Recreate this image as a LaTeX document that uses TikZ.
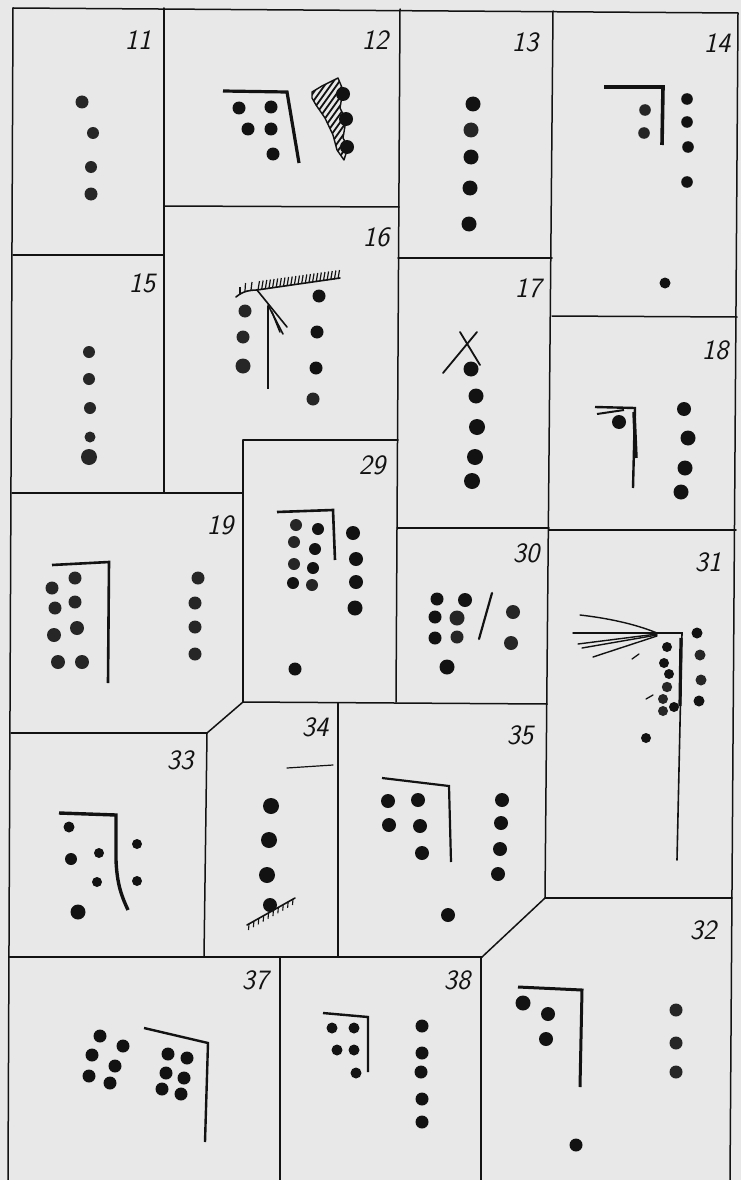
\documentclass[tikz,border=0pt]{standalone}
\usepackage{fontspec}
\usetikzlibrary{calc}
\definecolor{paper}{RGB}{232,232,232}
\definecolor{ink}{RGB}{18,18,18}
\definecolor{inkg}{RGB}{38,38,38}
\tikzset{
  frame/.style={line width=1.5pt, draw=ink, line cap=round, line join=round},
  bracket/.style={line width=3pt, draw=ink, line join=miter},
  thinink/.style={line width=1.6pt, draw=ink, line cap=round},
  lbl/.style={font=\fontsize{28}{28}\selectfont\sffamily\slshape, text=ink, inner sep=0pt},
  sdot/.style={fill=ink},
  gdot/.style={fill=inkg},
}
\newcommand\dd[3]{\fill[sdot] (#1,#2) circle (#3pt);}
\newcommand\gd[3]{\fill[gdot] (#1,#2) circle (#3pt);}
\begin{document}
\begin{tikzpicture}[x=1pt,y=-1pt]
\fill[paper] (0,0) rectangle (741,1180);
\useasboundingbox (0,0) rectangle (741,1180);

% ---------- frame ----------
\draw[frame] (13,8) -- (738,13) -- (730,1180);
\draw[frame] (13,8) -- (8,1180);
\draw[frame] (164,8) -- (164,493);
\draw[frame] (13,255) -- (164,255);
\draw[frame] (164,206) -- (399,207);
\draw[frame] (400,9) -- (396,702);
\draw[frame] (398,258) -- (552,258);
\draw[frame] (553,11) -- (545,898);
\draw[frame] (552,316) -- (737,317);
\draw[frame] (243,440) -- (398,440);
\draw[frame] (243,440) -- (243,702);
\draw[frame] (12,493) -- (243,493);
\draw[frame] (397,528) -- (549,528);
\draw[frame] (549,530) -- (736,530);
\draw[frame] (243,702) -- (547,704);
\draw[frame] (243,702) -- (207,733);
\draw[frame] (11,733) -- (207,733);
\draw[frame] (207,733) -- (204,957);
\draw[frame] (338,703) -- (338,957);
\draw[frame] (9,957) -- (482,957);
\draw[frame] (482,957) -- (545,898);
\draw[frame] (545,898) -- (732,898);
\draw[frame] (280,957) -- (280,1180);
\draw[frame] (481,957) -- (481,1180);

% ---------- labels ----------
\node[lbl] (l11) at (138,40) {11};
\node[lbl] (l12) at (375,40) {12};
\node[lbl] (l13) at (525,42) {13};
\node[lbl] (l14) at (717,43) {14};
\node[lbl] (l15) at (142,283) {15};
\node[lbl] (l16) at (376,237) {16};
\node[lbl] (l17) at (528,288) {17};
\node[lbl] (l18) at (715,350) {18};
\node[lbl] (l29) at (372,465) {29};
\node[lbl] (l19) at (220,525) {19};
\node[lbl] (l30) at (526,553) {30};
\node[lbl] (l31) at (708,562) {31};
\node[lbl] (l33) at (180,760) {33};
\node[lbl] (l34) at (315,727) {34};
\node[lbl] (l35) at (520,735) {35};
\node[lbl] (l32) at (703,930) {32};
\node[lbl] (l37) at (255,980) {37};
\node[lbl] (l38) at (457,980) {38};

% ---------- panel 11 ----------
\gd{82}{102}{6.5} \gd{93}{133}{6} \gd{91}{167}{6} \gd{91}{194}{6.5}

% ---------- panel 12 ----------
\draw[bracket, line width=3.2pt] (223,91) -- (287,92) -- (299,163);
\dd{239}{108}{6.5} \dd{271}{107}{6.5} \dd{248}{129}{6.5} \dd{271}{129}{6.5} \dd{273}{154}{6.5}
\begin{scope}
  \clip (312,92) -- (322,86) -- (338,78) -- (343,90) -- (340,108) -- (346,120) -- (343,138) -- (348,147) -- (344,160) -- (337,150) -- (333,135) -- (325,118) -- (316,105) -- (312,98) -- cycle;
  \foreach \k in {0,...,16} { \draw[line width=1.8pt, ink] (245+\k*6,180) -- ++(80,-112); }
\end{scope}
\draw[line width=1.4pt, ink, line join=round] (312,92) -- (322,86) -- (338,78) -- (343,90) -- (340,108) -- (346,120) -- (343,138) -- (348,147) -- (344,160) -- (337,150) -- (333,135) -- (325,118) -- (316,105) -- (312,98) -- cycle;
\dd{343}{94}{7} \dd{346}{119}{7} \dd{347}{147}{7}

% ---------- panel 13 ----------
\dd{473}{104}{7.5} \gd{471}{130}{7.5} \dd{471}{157}{7.5} \dd{470}{188}{7.5} \dd{469}{224}{7.5}

% ---------- panel 14 ----------
\draw[bracket, line width=3.6pt] (604,87) -- (663,87) -- (662,145);
\gd{645}{110}{5.8} \gd{644}{133}{5.8}
\dd{687}{99}{5.8} \dd{687}{122}{5.8} \dd{688}{147}{5.8} \dd{687}{182}{5.8}
\dd{665}{283}{5.5}

% ---------- panel 15 ----------
\gd{89}{352}{6} \gd{89}{379}{6} \gd{90}{408}{6} \gd{90}{437}{5.5} \gd{89}{457}{8}

% ---------- panel 16 ----------
\draw[line width=1.6pt, ink, line cap=round] (236,297) .. controls (243,291) and (250,290) .. (257,290) -- (340,278);
\foreach \t in {0,1,...,22} { \draw[line width=1.2pt, ink] ($(258,290)!\t/22!(338,279)$) -- ++(1.5,-9); }
\draw[line width=1.2pt, ink] (240,294) -- ++(0,-7);
\draw[line width=1.2pt, ink] (245,291) -- ++(0.5,-8);
\draw[line width=1.2pt, ink] (251,290) -- ++(1,-8);
\draw[thinink] (257,290) -- (287,327);
\draw[thinink] (268,305) -- (283,334);
\draw[thinink] (272,312) -- (280,332);
\draw[line width=2pt, ink] (268,306) -- (268,389);
\gd{245}{311}{6.5} \gd{243}{337}{6.5} \gd{243}{366}{7.5}
\dd{319}{296}{6.5} \dd{317}{332}{6.5} \dd{316}{368}{6.5} \gd{313}{399}{6.5}

% ---------- panel 17 ----------
\draw[thinink, line width=1.8pt] (443,373) -- (477,332);
\draw[thinink, line width=1.8pt] (460,332) -- (480,365);
\dd{471}{369}{7.5} \dd{476}{396}{7.5} \dd{477}{427}{8} \dd{475}{457}{8} \dd{472}{481}{8}

% ---------- panel 18 ----------
\draw[bracket, line width=2.4pt] (595,407) -- (635,408) -- (633,488);
\draw[line width=2pt, ink] (597,414) -- (624,410);
\draw[line width=3.5pt, ink] (634,412) -- (636,458);
\dd{619}{422}{7}
\dd{684}{409}{7} \dd{688}{438}{7.5} \dd{685}{468}{7.5} \dd{681}{492}{7.5}

% ---------- panel 19 ----------
\draw[bracket, line width=2.6pt] (52,565) -- (109,562) -- (108,683);
\gd{52}{588}{6.5} \gd{55}{608}{6.5} \gd{54}{635}{7} \gd{58}{662}{7}
\gd{75}{578}{6.5} \gd{75}{602}{6.5} \gd{77}{628}{7} \gd{82}{662}{7}
\gd{198}{578}{6.5} \gd{195}{603}{6.5} \gd{195}{627}{6.5} \gd{195}{654}{6.5}

% ---------- panel 29 ----------
\draw[bracket, line width=2.6pt] (277,512) -- (333,510) -- (335,560);
\gd{296}{525}{6} \dd{318}{529}{6} \gd{294}{542}{6} \dd{315}{549}{6}
\gd{294}{564}{6} \dd{313}{568}{6} \dd{293}{583}{6} \gd{312}{585}{6}
\dd{353}{533}{7} \dd{356}{559}{7} \dd{356}{582}{7} \dd{355}{608}{7.5}
\dd{295}{669}{6.5}

% ---------- panel 30 ----------
\draw[thinink, line width=2.2pt] (492,593) -- (479,639);
\dd{437}{599}{6.5} \dd{465}{600}{7} \dd{435}{617}{6.5} \gd{457}{618}{7.5}
\dd{435}{638}{6.5} \gd{457}{637}{6.5} \dd{447}{667}{7.5}
\gd{513}{612}{7} \gd{511}{643}{7}

% ---------- panel 31 ----------
\draw[thinink, line width=1.4pt] (580,615) .. controls (615,619) and (640,626) .. (657,633);
\draw[thinink, line width=1.4pt] (573,633) -- (657,633);
\draw[thinink, line width=1.4pt] (578,644) -- (657,634);
\draw[thinink, line width=1.4pt] (582,648) -- (657,635);
\draw[thinink, line width=1.4pt] (593,657) -- (657,636);
\draw[thinink, line width=1.6pt] (657,633) -- (682,633) -- (677,860);
\draw[line width=3.2pt, ink] (681,638) -- (680,706);
\draw[thinink, line width=1.3pt] (632,659) -- (639,654);
\draw[thinink, line width=1.3pt] (646,699) -- (653,695);
\dd{667}{647}{5} \dd{664}{663}{5} \dd{669}{674}{5} \gd{667}{687}{5.2}
\gd{663}{699}{5} \gd{663}{711}{5} \dd{674}{707}{5}
\dd{697}{633}{5.5} \gd{700}{655}{5.5} \gd{701}{680}{5.5} \dd{699}{701}{5.5}
\dd{646}{738}{5}

% ---------- panel 33 ----------
\draw[bracket, line width=3.4pt] (59,813) -- (116,815) -- (116,860) .. controls (117,885) and (122,897) .. (128,910);
\dd{69}{827}{5.5} \dd{71}{859}{6} \dd{99}{853}{5} \dd{97}{882}{5}
\dd{137}{844}{5} \dd{137}{881}{5} \dd{78}{912}{7.5}

% ---------- panel 34 ----------
\draw[thinink, line width=1.2pt] (287,768) -- (333,765);
\dd{271}{806}{8} \dd{269}{840}{8} \dd{267}{875}{8} \dd{270}{905}{7}
\draw[line width=1.6pt, ink, line cap=round] (247,925) -- (295,898);
\foreach \t in {0,1,...,9} { \draw[line width=1.1pt, ink] ($(249,924)!\t/9!(293,899)$) -- ++(-0.5,6); }

% ---------- panel 35 ----------
\draw[bracket, line width=2.2pt] (382,778) -- (449,786) -- (451,862);
\dd{388}{801}{7} \dd{418}{800}{7} \dd{389}{825}{7} \dd{420}{826}{7} \dd{422}{853}{7}
\dd{502}{800}{7} \dd{501}{823}{7} \dd{500}{849}{7} \dd{498}{874}{7}
\dd{448}{915}{7}

% ---------- panel 32 ----------
\draw[bracket, line width=3pt] (518,987) -- (582,990) -- (580,1087);
\dd{523}{1003}{7.5} \dd{548}{1014}{7} \dd{546}{1039}{7}
\gd{676}{1010}{6.5} \gd{676}{1043}{6.5} \gd{676}{1072}{6.5}
\dd{576}{1145}{6.5}

% ---------- panel 38 ----------
\draw[bracket, line width=2.4pt] (323,1013) -- (368,1017) -- (368,1072);
\dd{332}{1028}{5.5} \dd{354}{1028}{5.5} \dd{337}{1050}{5.5} \dd{354}{1050}{5.5} \dd{356}{1073}{5.5}
\dd{422}{1026}{6.5} \dd{422}{1053}{6.5} \dd{421}{1072}{6.5} \dd{422}{1099}{6.5} \dd{422}{1122}{6.5}

% ---------- panel 37 ----------
\draw[bracket, line width=2.4pt] (144,1028) -- (208,1043) -- (205,1142);
\dd{100}{1036}{6.5} \dd{123}{1046}{6.5} \dd{92}{1055}{6.5} \dd{115}{1066}{6.5} \dd{89}{1076}{6.5} \dd{110}{1083}{6.5}
\dd{168}{1054}{6.5} \dd{187}{1058}{6.5} \dd{166}{1073}{6.5} \dd{184}{1078}{6.5} \dd{162}{1089}{6.5} \dd{181}{1094}{6.5}
\end{tikzpicture}
\end{document}
